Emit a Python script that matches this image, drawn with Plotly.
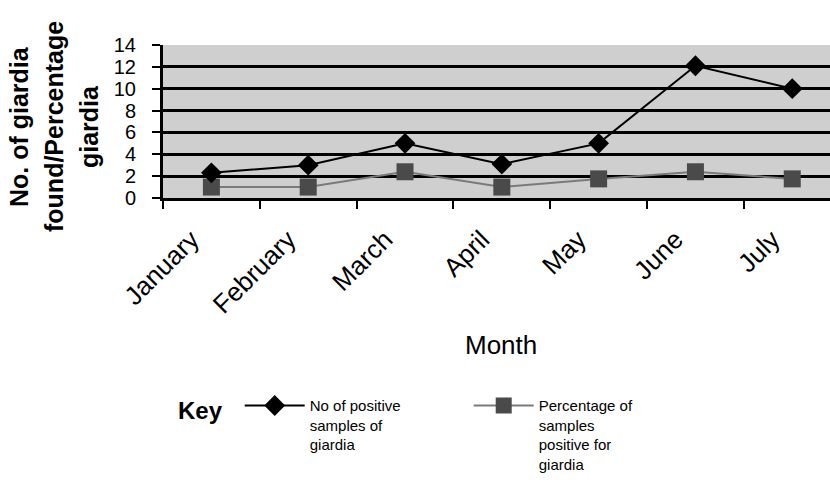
import plotly.graph_objects as go

# Monthly giardia survey results
months = ["January", "February", "March", "April", "May", "June", "July"]
positive_samples = [2.3, 3, 5, 3.1, 5, 12.1, 10]
percent_positive = [1.0, 1.0, 2.4, 1.0, 1.75, 2.4, 1.75]
y_ticks = [0, 2, 4, 6, 8, 10, 12, 14]

count_name = "No of positive<br>samples of<br>giardia"
pct_name = "Percentage of<br>samples<br>positive for<br>giardia"

fig = go.Figure()
fig.add_trace(go.Scatter(
    x=months, y=percent_positive, name=pct_name, mode="lines+markers",
    line=dict(color="#7a7a7a", width=2),
    marker=dict(symbol="square", size=17, color="#4a4a4a"),
    legendrank=2,
))
fig.add_trace(go.Scatter(
    x=months, y=positive_samples, name=count_name, mode="lines+markers",
    line=dict(color="black", width=2),
    marker=dict(symbol="diamond", size=16, color="black"),
    legendrank=1,
))

fig.update_layout(
    width=830, height=492,
    margin=dict(l=163, r=0, t=45, b=294),
    paper_bgcolor="white",
    plot_bgcolor="#cfcfcf",
    font=dict(family="Liberation Sans, Arial", color="black"),
    showlegend=True,
    legend=dict(
        orientation="h", x=0.115, y=-1.25, xanchor="left", yanchor="top",
        valign="top", itemwidth=60, entrywidth=154, entrywidthmode="pixels",
        font=dict(size=15),
        traceorder="normal",
    ),
)

fig.update_xaxes(
    type="category", categoryorder="array", categoryarray=months,
    range=[-0.5, 6.39],
    showline=True, linecolor="black", linewidth=3,
    ticks="outside", ticklen=8, tickwidth=2, tickcolor="black",
    tickson="boundaries", tickangle=-45,
    tickfont=dict(size=26), ticklabelstandoff=13, ticklabelshift=-20,
    showgrid=False,
)
fig.update_yaxes(
    range=[0, 14], tickvals=y_ticks, ticktext=[str(v) for v in y_ticks],
    showline=True, linecolor="black", linewidth=3,
    ticks="outside", ticklen=8, tickwidth=2, tickcolor="black",
    tickfont=dict(size=20), ticklabelstandoff=12,
    showgrid=True, gridcolor="black", gridwidth=3,
    zeroline=False,
)

# Axis titles
fig.add_annotation(text="Month", x=0.5, y=-0.96, xref="paper", yref="paper",
                   xanchor="center", yanchor="middle", showarrow=False,
                   font=dict(size=26), xshift=4)
for i, line in enumerate(["No. of giardia", "found/Percentage", "giardia"]):
    fig.add_annotation(text="<b>" + line + "</b>", textangle=-90,
                       x=0, y=0.464, xref="paper", yref="paper",
                       xanchor="center", yanchor="middle", showarrow=False,
                       font=dict(size=25), xshift=-144 + 35 * i)

# Legend heading
fig.add_annotation(text="<b>Key</b>", x=0.02, y=-1.39, xref="paper", yref="paper",
                   xanchor="left", yanchor="middle", showarrow=False,
                   font=dict(size=24))

fig.write_html("out.html")
